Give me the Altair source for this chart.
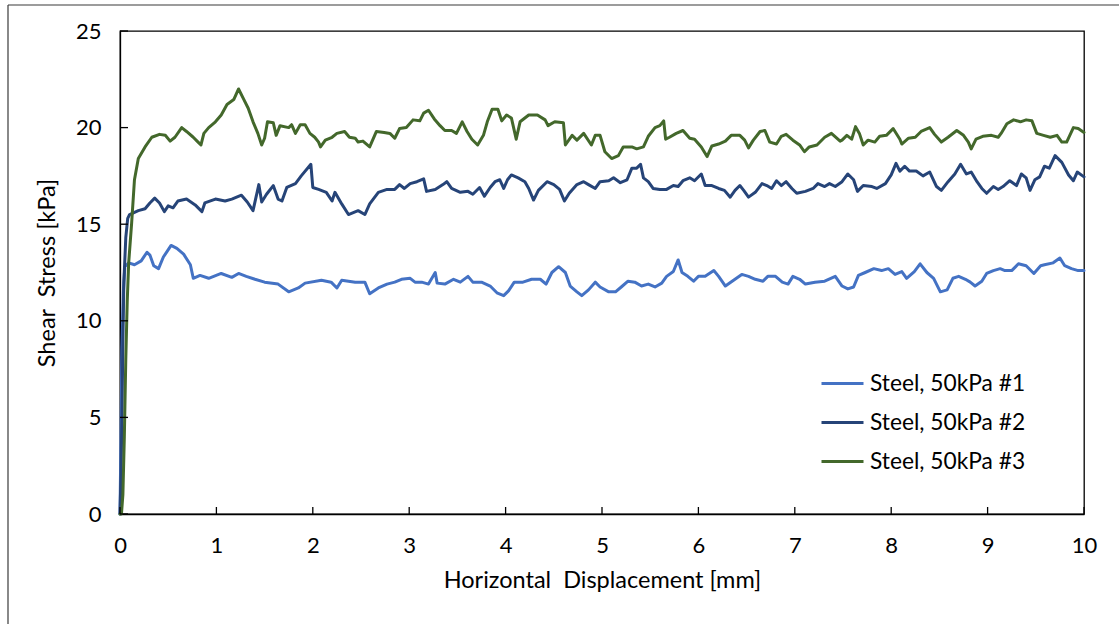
import altair as alt
import pandas as pd

# ---------------- data ----------------
series_names = ["Steel, 50kPa #1", "Steel, 50kPa #2", "Steel, 50kPa #3"]
series_colors = ["#4472C4", "#264478", "#43682B"]
x_ticks = [0, 1, 2, 3, 4, 5, 6, 7, 8, 9, 10]
y_ticks = [0, 5, 10, 15, 20, 25]

s1_x = [0, 0.01, 0.02, 0.035, 0.05, 0.09, 0.15, 0.22, 0.28, 0.31, 0.35, 0.40, 0.45, 0.53, 0.59, 0.66, 0.73, 0.76, 0.83, 0.92,
        1.05, 1.16, 1.23, 1.31, 1.40, 1.50, 1.64, 1.75, 1.85, 1.92, 2.09, 2.19, 2.25, 2.30, 2.44, 2.54, 2.59, 2.68, 2.77, 2.85,
        2.92, 3.01, 3.06, 3.13, 3.20, 3.27, 3.29, 3.37, 3.46, 3.53, 3.61, 3.66, 3.75, 3.84, 3.91, 3.98, 4.03, 4.09, 4.18, 4.27,
        4.36, 4.42, 4.48, 4.55, 4.62, 4.67, 4.74, 4.79, 4.86, 4.93, 4.98, 5.07, 5.14, 5.20, 5.27, 5.34, 5.41, 5.48, 5.55, 5.62,
        5.67, 5.74, 5.79, 5.83, 5.89, 5.95, 6.00, 6.07, 6.16, 6.21, 6.28, 6.35, 6.45, 6.52, 6.59, 6.67, 6.72, 6.80, 6.87, 6.93,
        6.98, 7.05, 7.11, 7.21, 7.31, 7.42, 7.49, 7.55, 7.61, 7.66, 7.73, 7.82, 7.90, 7.97, 8.04, 8.11, 8.16, 8.24, 8.30, 8.37,
        8.44, 8.51, 8.58, 8.64, 8.70, 8.77, 8.82, 8.87, 8.94, 8.99, 9.06, 9.13, 9.18, 9.25, 9.32, 9.40, 9.48, 9.55, 9.59, 9.68,
        9.75, 9.80, 9.87, 9.94, 10.0]
s1_y = [0, 4, 8.5, 11.5, 12.8, 13.0, 12.9, 13.1, 13.55, 13.4, 12.85, 12.7, 13.3, 13.9, 13.75, 13.45, 12.9, 12.2, 12.35, 12.2,
        12.45, 12.25, 12.45, 12.3, 12.15, 12.0, 11.9, 11.5, 11.7, 11.95, 12.1, 12.0, 11.7, 12.1, 12.0, 12.0, 11.4, 11.7, 11.9, 12.0,
        12.15, 12.2, 12.0, 12.0, 11.9, 12.5, 11.95, 11.9, 12.15, 12.0, 12.3, 12.0, 12.0, 11.8, 11.45, 11.3, 11.55, 12.0, 12.0, 12.15,
        12.15, 11.9, 12.5, 12.8, 12.5, 11.8, 11.5, 11.3, 11.6, 12.0, 11.75, 11.5, 11.5, 11.75, 12.05, 12.0, 11.8, 11.9, 11.75, 11.95,
        12.3, 12.55, 13.15, 12.5, 12.3, 12.05, 12.3, 12.3, 12.6, 12.3, 11.8, 12.05, 12.4, 12.3, 12.15, 12.05, 12.3, 12.3, 12.0, 11.9,
        12.3, 12.15, 11.9, 12.0, 12.05, 12.3, 11.8, 11.65, 11.75, 12.35, 12.5, 12.7, 12.6, 12.7, 12.4, 12.55, 12.2, 12.55, 12.95, 12.5,
        12.2, 11.5, 11.6, 12.2, 12.3, 12.15, 12.0, 11.8, 12.05, 12.45, 12.6, 12.7, 12.6, 12.6, 12.95, 12.85, 12.45, 12.85, 12.9, 13.0,
        13.25, 12.85, 12.7, 12.6, 12.6]

s2_x = [0, 0.01, 0.02, 0.03, 0.04, 0.06, 0.08, 0.10, 0.19, 0.26, 0.31, 0.36, 0.41, 0.46, 0.50, 0.55, 0.60, 0.69, 0.78, 0.85,
        0.88, 0.99, 1.09, 1.16, 1.26, 1.32, 1.38, 1.44, 1.47, 1.52, 1.59, 1.64, 1.68, 1.73, 1.82, 1.88, 1.98, 2.00, 2.06, 2.14,
        2.20, 2.23, 2.30, 2.37, 2.47, 2.54, 2.59, 2.68, 2.77, 2.85, 2.90, 2.95, 3.01, 3.08, 3.15, 3.18, 3.27, 3.35, 3.39, 3.44,
        3.53, 3.61, 3.66, 3.73, 3.78, 3.84, 3.89, 3.94, 3.98, 4.02, 4.06, 4.13, 4.20, 4.24, 4.29, 4.34, 4.43, 4.50, 4.56, 4.61,
        4.66, 4.74, 4.81, 4.86, 4.93, 4.98, 5.07, 5.12, 5.19, 5.26, 5.31, 5.36, 5.40, 5.43, 5.48, 5.53, 5.60, 5.67, 5.74, 5.79,
        5.84, 5.91, 5.96, 6.03, 6.07, 6.14, 6.21, 6.27, 6.33, 6.38, 6.43, 6.47, 6.52, 6.59, 6.66, 6.71, 6.76, 6.81, 6.86, 6.91,
        6.97, 7.02, 7.11, 7.19, 7.24, 7.31, 7.36, 7.42, 7.49, 7.55, 7.61, 7.65, 7.71, 7.80, 7.85, 7.94, 8.00, 8.05, 8.09, 8.14,
        8.19, 8.26, 8.33, 8.40, 8.47, 8.52, 8.59, 8.66, 8.72, 8.78, 8.83, 8.89, 8.94, 8.99, 9.06, 9.11, 9.16, 9.23, 9.30, 9.35,
        9.40, 9.44, 9.49, 9.54, 9.59, 9.64, 9.70, 9.77, 9.84, 9.89, 9.93, 10.0]
s2_y = [0, 2, 5, 9, 12, 14.3, 15.3, 15.5, 15.7, 15.8, 16.1, 16.35, 16.1, 15.65, 15.95, 15.85, 16.2, 16.3, 16.0, 15.65,
        16.1, 16.3, 16.2, 16.3, 16.5, 16.15, 15.7, 17.05, 16.15, 16.55, 17.0, 16.3, 16.2, 16.9, 17.1, 17.5, 18.1, 16.9, 16.8, 16.65,
        16.2, 16.65, 16.05, 15.5, 15.7, 15.5, 16.05, 16.65, 16.8, 16.8, 17.05, 16.85, 17.1, 17.2, 17.35, 16.7, 16.8, 17.05, 17.2, 16.85,
        16.65, 16.7, 16.55, 16.9, 16.45, 16.9, 17.2, 17.3, 16.85, 17.3, 17.55, 17.4, 17.2, 16.85, 16.25, 16.75, 17.2, 17.05, 16.8, 16.2,
        16.6, 17.05, 17.2, 17.05, 16.85, 17.2, 17.25, 17.4, 17.15, 17.3, 17.9, 17.9, 18.1, 17.4, 17.2, 16.85, 16.8, 16.8, 17.0, 16.95,
        17.25, 17.4, 17.25, 17.6, 17.0, 17.0, 16.85, 16.75, 16.4, 16.75, 17.0, 16.75, 16.4, 16.65, 17.1, 17.0, 16.85, 17.25, 17.0, 17.2,
        16.85, 16.6, 16.7, 16.85, 17.1, 16.95, 17.1, 16.95, 17.2, 17.6, 17.3, 16.7, 17.0, 16.95, 16.85, 17.1, 17.55, 18.15, 17.75, 18.0,
        17.75, 17.75, 17.5, 17.7, 16.95, 16.75, 17.2, 17.6, 18.1, 17.6, 17.7, 17.2, 16.85, 16.6, 16.95, 16.8, 16.95, 17.25, 17.0, 17.6,
        17.4, 16.75, 17.3, 17.45, 18.0, 17.9, 18.55, 18.2, 17.55, 17.25, 17.7, 17.45]

s3_x = [0, 0.015, 0.03, 0.045, 0.06, 0.075, 0.09, 0.12, 0.15, 0.19, 0.26, 0.33, 0.41, 0.47, 0.52, 0.57, 0.64, 0.69, 0.76, 0.81,
        0.84, 0.87, 0.92, 0.99, 1.05, 1.11, 1.18, 1.23, 1.28, 1.33, 1.38, 1.43, 1.47, 1.50, 1.53, 1.59, 1.62, 1.66, 1.75, 1.78,
        1.82, 1.87, 1.92, 1.97, 2.02, 2.06, 2.08, 2.13, 2.20, 2.25, 2.33, 2.38, 2.44, 2.47, 2.52, 2.59, 2.66, 2.74, 2.80, 2.85,
        2.90, 2.97, 3.04, 3.11, 3.15, 3.20, 3.26, 3.32, 3.37, 3.44, 3.49, 3.55, 3.60, 3.65, 3.71, 3.77, 3.81, 3.86, 3.92, 3.96,
        4.01, 4.06, 4.11, 4.15, 4.24, 4.33, 4.41, 4.44, 4.51, 4.60, 4.62, 4.69, 4.74, 4.81, 4.89, 4.93, 4.98, 5.03, 5.10, 5.17,
        5.22, 5.31, 5.36, 5.43, 5.48, 5.55, 5.60, 5.64, 5.66, 5.70, 5.77, 5.84, 5.91, 5.96, 6.03, 6.09, 6.14, 6.21, 6.28, 6.34,
        6.43, 6.48, 6.52, 6.57, 6.64, 6.69, 6.74, 6.81, 6.86, 6.91, 6.98, 7.05, 7.10, 7.15, 7.23, 7.31, 7.38, 7.47, 7.49, 7.54,
        7.59, 7.63, 7.67, 7.71, 7.76, 7.83, 7.88, 7.95, 8.02, 8.09, 8.11, 8.18, 8.25, 8.31, 8.40, 8.45, 8.52, 8.59, 8.68, 8.75,
        8.80, 8.83, 8.88, 8.95, 9.04, 9.11, 9.14, 9.20, 9.27, 9.34, 9.40, 9.46, 9.51, 9.58, 9.65, 9.72, 9.77, 9.82, 9.89, 9.94,
        10.0]
s3_y = [0, 0, 1, 4, 8, 11, 13, 15, 17.3, 18.4, 19.0, 19.5, 19.65, 19.6, 19.3, 19.5, 20.0, 19.8, 19.5, 19.25,
        19.1, 19.7, 20.0, 20.3, 20.65, 21.2, 21.45, 22.0, 21.5, 21.0, 20.3, 19.7, 19.1, 19.45, 20.3, 20.25, 19.6, 20.1, 20.0, 20.15,
        19.7, 20.15, 20.15, 19.7, 19.5, 19.25, 19.0, 19.35, 19.5, 19.7, 19.8, 19.5, 19.45, 19.25, 19.3, 19.0, 19.8, 19.75, 19.7, 19.45,
        19.95, 20.0, 20.4, 20.35, 20.75, 20.9, 20.45, 20.1, 19.85, 19.85, 19.7, 20.3, 19.8, 19.4, 19.1, 19.6, 20.3, 20.95, 20.95, 20.35,
        20.65, 20.5, 19.4, 20.3, 20.65, 20.65, 20.4, 20.1, 20.3, 20.25, 19.1, 19.6, 19.35, 19.7, 19.1, 19.6, 19.6, 18.75, 18.4, 18.55,
        19.0, 19.0, 18.9, 19.0, 19.55, 20.0, 20.1, 20.35, 19.4, 19.5, 19.7, 19.85, 19.45, 19.4, 19.0, 18.5, 19.05, 19.15, 19.3, 19.6,
        19.6, 19.35, 18.95, 19.35, 19.8, 19.85, 19.25, 19.15, 19.55, 19.65, 19.35, 19.1, 18.75, 19.0, 19.1, 19.5, 19.7, 19.3, 19.35, 19.6,
        19.4, 20.05, 19.7, 19.1, 19.35, 19.25, 19.55, 19.6, 19.95, 19.4, 19.15, 19.45, 19.5, 19.8, 20.0, 19.65, 19.25, 19.5, 19.85, 19.6,
        19.25, 18.9, 19.4, 19.55, 19.6, 19.5, 19.7, 20.2, 20.4, 20.3, 20.4, 20.35, 19.7, 19.6, 19.5, 19.6, 19.25, 19.25, 20.0, 19.95,
        19.75]

rows = []
for name, xs, ys in zip(series_names, [s1_x, s2_x, s3_x], [s1_y, s2_y, s3_y]):
    for i, (a, b) in enumerate(zip(xs, ys)):
        rows.append({"series": name, "disp": a, "stress": b, "order": i})
df = pd.DataFrame(rows)

# ---------------- chart ----------------
W, H = 964, 483
FONT = "Lato"
LBL = 22
TTL = 23.5
LEG = 22.75

xscale = alt.Scale(domain=[0, 10], nice=False, zero=False)
yscale = alt.Scale(domain=[0, 25], nice=False)
x_axis = alt.Axis(values=x_ticks, title="Horizontal\u00a0 Displacement [mm]", labelPadding=21,
                  labelFlush=False, titlePadding=12, format="d")
y_axis = alt.Axis(values=y_ticks, title="Shear\u00a0 Stress [kPa]", labelPadding=19,
                  labelFlush=False, titlePadding=16, format="d")

lines = alt.Chart(df).mark_line(strokeWidth=3, strokeJoin="round", strokeCap="round").encode(
    x=alt.X("disp:Q", scale=xscale, axis=x_axis),
    y=alt.Y("stress:Q", scale=yscale, axis=y_axis),
    color=alt.Color("series:N", scale=alt.Scale(domain=series_names, range=series_colors),
                    legend=alt.Legend(title=None, orient="none", legendX=700, legendY=330,
                                      symbolType="stroke", symbolSize=1764, symbolStrokeWidth=3,
                                      labelFont=FONT, labelFontSize=LEG, labelColor="black",
                                      labelOffset=5, rowPadding=4, padding=0)),
    order="order:Q",
)

xt = alt.Chart(pd.DataFrame({"disp": x_ticks})).mark_rule(color="black", strokeWidth=1.3).encode(
    x=alt.X("disp:Q", scale=xscale, axis=x_axis), y=alt.value(H), y2=alt.value(H - 7))
yt = alt.Chart(pd.DataFrame({"stress": y_ticks})).mark_rule(color="black", strokeWidth=1.3).encode(
    y=alt.Y("stress:Q", scale=yscale, axis=y_axis), x=alt.value(0), x2=alt.value(8))

frame_df = pd.DataFrame({"k": [0]})
frame_top = alt.Chart(frame_df).mark_rule(color="#3a3a3a", strokeWidth=1.2).encode(
    x=alt.value(-112), x2=alt.value(1119 - 120), y=alt.value(-26))
frame_left = alt.Chart(frame_df).mark_rule(color="#3a3a3a", strokeWidth=1.2).encode(
    x=alt.value(-112), y=alt.value(-26), y2=alt.value(624 - 31))

chart = alt.layer(lines, xt, yt, frame_top, frame_left).properties(
    width=W, height=H,
    padding={"left": 120, "top": 31, "right": 35, "bottom": 110},
    autosize=alt.AutoSizeParams(type="none"),
    background="white",
).configure_view(
    stroke="black", strokeWidth=1.3
).configure_axis(
    grid=False, domainColor="black", domainWidth=1.3, ticks=False,
    labelFont=FONT, labelFontSize=LBL, labelColor="black",
    titleFont=FONT, titleFontSize=TTL, titleFontWeight="normal", titleColor="black",
)

chart.save("out.html", embed_options={"renderer": "svg", "actions": False})
